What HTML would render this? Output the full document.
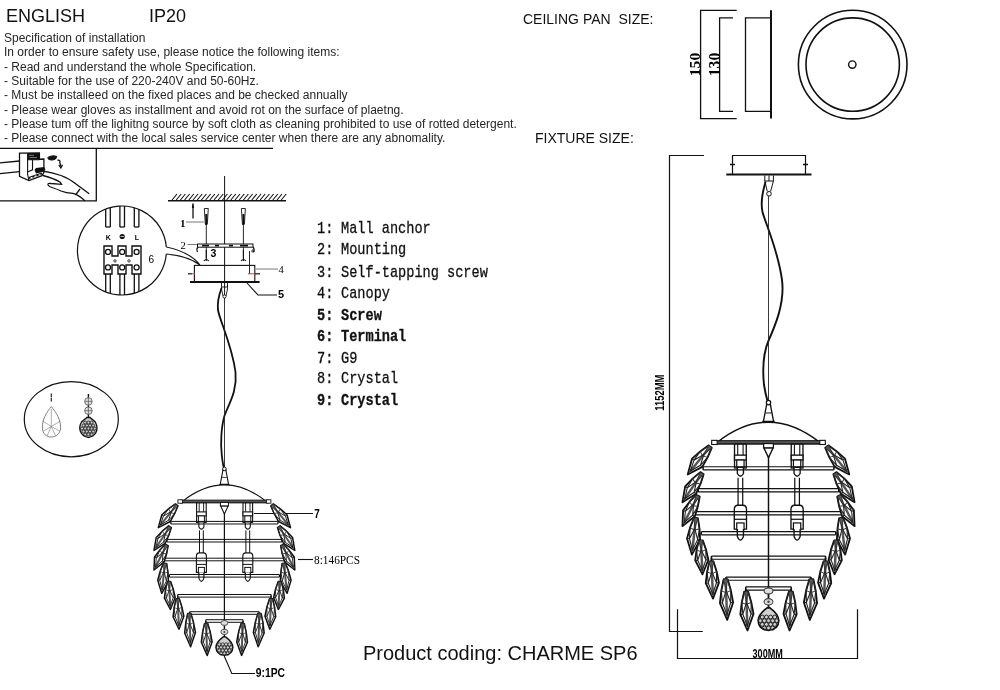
<!DOCTYPE html>
<html><head><meta charset="utf-8">
<style>
html,body{margin:0;padding:0;background:#fff;}
body{width:1000px;height:690px;position:relative;overflow:hidden;font-family:"Liberation Sans",sans-serif;color:#111;}
.t{position:absolute;white-space:pre;line-height:1;will-change:transform;}
.s{font-size:12px;color:#262626;}
.m{font-family:"Liberation Mono",monospace;font-size:13.6px;-webkit-text-stroke:0.25px #111;transform:scaleY(1.17);transform-origin:0 10.42px;}
</style></head><body>
<svg width="1000" height="690" style="position:absolute;left:0;top:0;will-change:transform">
<defs><g id="chand"><path d="M-1.5,-31 L-4,-18 L-4.5,-17 L4.5,-17 L4,-18 L1.5,-31 Z" fill="#fff" stroke="#111" stroke-width="1.1"/>
<circle cx="0" cy="-32.5" r="1.8" fill="#fff" stroke="#111" stroke-width="1"/>
<path d="M-2.5,-24 L2.5,-24" stroke="#111" stroke-width="0.8"/>
<path d="M-42,0 Q0,-33 42,0" fill="#fff" stroke="#111" stroke-width="1.2"/>
<rect x="-44" y="-1.3" width="88" height="2.8" fill="#333" stroke="#111" stroke-width="0.9"/>
<path d="M-44,-0.2 H44" stroke="#999" stroke-width="0.5"/>
<rect x="-46.5" y="-1.6" width="4.5" height="3.4" fill="#fff" stroke="#111" stroke-width="0.9"/>
<rect x="42" y="-1.6" width="4.5" height="3.4" fill="#fff" stroke="#111" stroke-width="0.9"/>
<g transform="translate(-23,0)">
<rect x="-4.8" y="1.5" width="9.6" height="19.5" fill="#fff" stroke="#111" stroke-width="1.1"/>
<path d="M-2.2,1.5 V11 M2.2,1.5 V11" stroke="#111" stroke-width="0.9"/>
<rect x="-4.8" y="10.5" width="9.6" height="4" fill="#fff" stroke="#111" stroke-width="1.1"/>
<rect x="-3" y="14.5" width="6" height="6" fill="#fff" stroke="#111" stroke-width="1"/>
<path d="M-2.5,21 V25.5 Q0,30 2.5,25.5 V21" fill="#fff" stroke="#111" stroke-width="1.1"/>
<path d="M-1.9,29 V51.5 M1.9,29 V51.5" stroke="#111" stroke-width="1"/>
<path d="M-5,71 V55 Q-5,51.5 -2,51.5 H2 Q5,51.5 5,55 V71 Z" fill="#fff" stroke="#111" stroke-width="1.1"/>
<path d="M-5,63 H5" stroke="#111" stroke-width="1"/>
<rect x="-3" y="66" width="6" height="5.5" fill="#fff" stroke="#111" stroke-width="1"/>
<path d="M-2.5,71 V77 Q0,83 2.5,77 V71" fill="#fff" stroke="#111" stroke-width="1.1"/>
</g>
<g transform="translate(23.4,0)">
<rect x="-4.8" y="1.5" width="9.6" height="19.5" fill="#fff" stroke="#111" stroke-width="1.1"/>
<path d="M-2.2,1.5 V11 M2.2,1.5 V11" stroke="#111" stroke-width="0.9"/>
<rect x="-4.8" y="10.5" width="9.6" height="4" fill="#fff" stroke="#111" stroke-width="1.1"/>
<rect x="-3" y="14.5" width="6" height="6" fill="#fff" stroke="#111" stroke-width="1"/>
<path d="M-2.5,21 V25.5 Q0,30 2.5,25.5 V21" fill="#fff" stroke="#111" stroke-width="1.1"/>
<path d="M-1.9,29 V51.5 M1.9,29 V51.5" stroke="#111" stroke-width="1"/>
<path d="M-5,71 V55 Q-5,51.5 -2,51.5 H2 Q5,51.5 5,55 V71 Z" fill="#fff" stroke="#111" stroke-width="1.1"/>
<path d="M-5,63 H5" stroke="#111" stroke-width="1"/>
<rect x="-3" y="66" width="6" height="5.5" fill="#fff" stroke="#111" stroke-width="1"/>
<path d="M-2.5,71 V77 Q0,83 2.5,77 V71" fill="#fff" stroke="#111" stroke-width="1.1"/>
</g>
<path d="M-53.5,20.0 H53.5 M-53.5,22.6 H53.5" stroke="#111" stroke-width="1"/>
<path d="M-53.5,20.0 V22.6 M53.5,20.0 V22.6" stroke="#111" stroke-width="1.2"/>
<path d="M-57.5,38.0 H57.5 M-57.5,40.599999999999994 H57.5" stroke="#111" stroke-width="1"/>
<path d="M-57.5,38.0 V40.599999999999994 M57.5,38.0 V40.599999999999994" stroke="#111" stroke-width="1.2"/>
<path d="M-60.3,56.800000000000004 H60.3 M-60.3,59.4 H60.3" stroke="#111" stroke-width="1"/>
<path d="M-60.3,56.800000000000004 V59.4 M60.3,56.800000000000004 V59.4" stroke="#111" stroke-width="1.2"/>
<path d="M-55,73.10000000000001 H55 M-55,75.7 H55" stroke="#111" stroke-width="1"/>
<path d="M-55,73.10000000000001 V75.7 M55,73.10000000000001 V75.7" stroke="#111" stroke-width="1.2"/>
<path d="M-46.7,93.10000000000001 H46.7 M-46.7,95.7 H46.7" stroke="#111" stroke-width="1"/>
<path d="M-46.7,93.10000000000001 V95.7 M46.7,93.10000000000001 V95.7" stroke="#111" stroke-width="1.2"/>
<path d="M-34.8,110.3 H34.8 M-34.8,112.89999999999999 H34.8" stroke="#111" stroke-width="1"/>
<path d="M-34.8,110.3 V112.89999999999999 M34.8,110.3 V112.89999999999999" stroke="#111" stroke-width="1.2"/>
<path d="M-18.6,118.3 H18.6 M-18.6,120.89999999999999 H18.6" stroke="#111" stroke-width="1"/>
<path d="M-18.6,118.3 V120.89999999999999 M18.6,118.3 V120.89999999999999" stroke="#111" stroke-width="1.2"/>
<path d="M-46.7,94.4 V98.4 M46.7,94.4 V98.4" stroke="#111" stroke-width="1.4"/>
<path d="M-34.8,111.6 V115.6 M34.8,111.6 V115.6" stroke="#111" stroke-width="1.4"/>
<path d="M-18.6,119.6 V123.6 M18.6,119.6 V123.6" stroke="#111" stroke-width="1.4"/>
<path d="M0,2 V118" stroke="#111" stroke-width="1.2"/>
<path d="M-3.8,4.5 L3.8,4.5 L0,12.5 Z" fill="#fff" stroke="#111" stroke-width="1.1"/>
<rect x="-4" y="1" width="8" height="3.5" fill="#fff" stroke="#111" stroke-width="1"/>
<g transform="translate(-47.70,3.50) rotate(38.90)">
<polygon points="-1.6,0 1.6,0 3.89,8.20 5.40,16.99 0,29.30 -5.40,16.99 -3.89,8.20" fill="#fff" stroke="#111" stroke-width="1.5" stroke-linejoin="round"/>
<rect x="-1" y="0" width="2" height="26.95" fill="#555"/>
<path d="M0,8.20 L-3.35,16.99 L0,25.78 L3.35,16.99 Z M-3.89,8.20 L-3.35,16.99 M3.89,8.20 L3.35,16.99 M-1.6,0 L-3.89,8.20 M1.6,0 L3.89,8.20 M-5.40,16.99 L-3.35,16.99 M5.40,16.99 L3.35,16.99" fill="none" stroke="#222" stroke-width="0.9"/>
<path d="M-1.6,0 L0,8.20 L1.6,0 M-3.89,8.20 L0,9.84 L3.89,8.20" fill="none" stroke="#333" stroke-width="0.8"/>
</g>
<g transform="translate(47.70,3.50) rotate(-38.90)">
<polygon points="-1.6,0 1.6,0 3.89,8.20 5.40,16.99 0,29.30 -5.40,16.99 -3.89,8.20" fill="#fff" stroke="#111" stroke-width="1.5" stroke-linejoin="round"/>
<rect x="-1" y="0" width="2" height="26.95" fill="#555"/>
<path d="M0,8.20 L-3.35,16.99 L0,25.78 L3.35,16.99 Z M-3.89,8.20 L-3.35,16.99 M3.89,8.20 L3.35,16.99 M-1.6,0 L-3.89,8.20 M1.6,0 L3.89,8.20 M-5.40,16.99 L-3.35,16.99 M5.40,16.99 L3.35,16.99" fill="none" stroke="#222" stroke-width="0.9"/>
<path d="M-1.6,0 L0,8.20 L1.6,0 M-3.89,8.20 L0,9.84 L3.89,8.20" fill="none" stroke="#333" stroke-width="0.8"/>
</g>
<g transform="translate(-54.40,25.30) rotate(34.02)">
<polygon points="-1.6,0 1.6,0 3.89,8.01 5.40,16.59 0,28.60 -5.40,16.59 -3.89,8.01" fill="#fff" stroke="#111" stroke-width="1.5" stroke-linejoin="round"/>
<rect x="-1" y="0" width="2" height="26.31" fill="#555"/>
<path d="M0,8.01 L-3.35,16.59 L0,25.16 L3.35,16.59 Z M-3.89,8.01 L-3.35,16.59 M3.89,8.01 L3.35,16.59 M-1.6,0 L-3.89,8.01 M1.6,0 L3.89,8.01 M-5.40,16.59 L-3.35,16.59 M5.40,16.59 L3.35,16.59" fill="none" stroke="#222" stroke-width="0.9"/>
<path d="M-1.6,0 L0,8.01 L1.6,0 M-3.89,8.01 L0,9.61 L3.89,8.01" fill="none" stroke="#333" stroke-width="0.8"/>
</g>
<g transform="translate(54.40,25.30) rotate(-34.02)">
<polygon points="-1.6,0 1.6,0 3.89,8.01 5.40,16.59 0,28.60 -5.40,16.59 -3.89,8.01" fill="#fff" stroke="#111" stroke-width="1.5" stroke-linejoin="round"/>
<rect x="-1" y="0" width="2" height="26.31" fill="#555"/>
<path d="M0,8.01 L-3.35,16.59 L0,25.16 L3.35,16.59 Z M-3.89,8.01 L-3.35,16.59 M3.89,8.01 L3.35,16.59 M-1.6,0 L-3.89,8.01 M1.6,0 L3.89,8.01 M-5.40,16.59 L-3.35,16.59 M5.40,16.59 L3.35,16.59" fill="none" stroke="#222" stroke-width="0.9"/>
<path d="M-1.6,0 L0,8.01 L1.6,0 M-3.89,8.01 L0,9.61 L3.89,8.01" fill="none" stroke="#333" stroke-width="0.8"/>
</g>
<g transform="translate(-57.70,43.60) rotate(26.93)">
<polygon points="-1.6,0 1.6,0 3.89,7.85 5.40,16.26 0,28.04 -5.40,16.26 -3.89,7.85" fill="#fff" stroke="#111" stroke-width="1.5" stroke-linejoin="round"/>
<rect x="-1" y="0" width="2" height="25.80" fill="#555"/>
<path d="M0,7.85 L-3.35,16.26 L0,24.68 L3.35,16.26 Z M-3.89,7.85 L-3.35,16.26 M3.89,7.85 L3.35,16.26 M-1.6,0 L-3.89,7.85 M1.6,0 L3.89,7.85 M-5.40,16.26 L-3.35,16.26 M5.40,16.26 L3.35,16.26" fill="none" stroke="#222" stroke-width="0.9"/>
<path d="M-1.6,0 L0,7.85 L1.6,0 M-3.89,7.85 L0,9.42 L3.89,7.85" fill="none" stroke="#333" stroke-width="0.8"/>
</g>
<g transform="translate(57.70,43.60) rotate(-26.93)">
<polygon points="-1.6,0 1.6,0 3.89,7.85 5.40,16.26 0,28.04 -5.40,16.26 -3.89,7.85" fill="#fff" stroke="#111" stroke-width="1.5" stroke-linejoin="round"/>
<rect x="-1" y="0" width="2" height="25.80" fill="#555"/>
<path d="M0,7.85 L-3.35,16.26 L0,24.68 L3.35,16.26 Z M-3.89,7.85 L-3.35,16.26 M3.89,7.85 L3.35,16.26 M-1.6,0 L-3.89,7.85 M1.6,0 L3.89,7.85 M-5.40,16.26 L-3.35,16.26 M5.40,16.26 L3.35,16.26" fill="none" stroke="#222" stroke-width="0.9"/>
<path d="M-1.6,0 L0,7.85 L1.6,0 M-3.89,7.85 L0,9.42 L3.89,7.85" fill="none" stroke="#333" stroke-width="0.8"/>
</g>
<g transform="translate(-59.40,61.90) rotate(6.28)">
<polygon points="-1.6,0 1.6,0 3.89,8.45 5.40,17.50 0,30.18 -5.40,17.50 -3.89,8.45" fill="#fff" stroke="#111" stroke-width="1.5" stroke-linejoin="round"/>
<rect x="-1" y="0" width="2" height="27.77" fill="#555"/>
<path d="M0,8.45 L-3.35,17.50 L0,26.56 L3.35,17.50 Z M-3.89,8.45 L-3.35,17.50 M3.89,8.45 L3.35,17.50 M-1.6,0 L-3.89,8.45 M1.6,0 L3.89,8.45 M-5.40,17.50 L-3.35,17.50 M5.40,17.50 L3.35,17.50" fill="none" stroke="#222" stroke-width="0.9"/>
<path d="M-1.6,0 L0,8.45 L1.6,0 M-3.89,8.45 L0,10.14 L3.89,8.45" fill="none" stroke="#333" stroke-width="0.8"/>
</g>
<g transform="translate(59.40,61.90) rotate(-6.28)">
<polygon points="-1.6,0 1.6,0 3.89,8.45 5.40,17.50 0,30.18 -5.40,17.50 -3.89,8.45" fill="#fff" stroke="#111" stroke-width="1.5" stroke-linejoin="round"/>
<rect x="-1" y="0" width="2" height="27.77" fill="#555"/>
<path d="M0,8.45 L-3.35,17.50 L0,26.56 L3.35,17.50 Z M-3.89,8.45 L-3.35,17.50 M3.89,8.45 L3.35,17.50 M-1.6,0 L-3.89,8.45 M1.6,0 L3.89,8.45 M-5.40,17.50 L-3.35,17.50 M5.40,17.50 L3.35,17.50" fill="none" stroke="#222" stroke-width="0.9"/>
<path d="M-1.6,0 L0,8.45 L1.6,0 M-3.89,8.45 L0,10.14 L3.89,8.45" fill="none" stroke="#333" stroke-width="0.8"/>
</g>
<g transform="translate(-55.40,80.30) rotate(-2.89)">
<polygon points="-1.6,0 1.6,0 3.89,7.77 5.40,16.09 0,27.74 -5.40,16.09 -3.89,7.77" fill="#fff" stroke="#111" stroke-width="1.5" stroke-linejoin="round"/>
<rect x="-1" y="0" width="2" height="25.52" fill="#555"/>
<path d="M0,7.77 L-3.35,16.09 L0,24.41 L3.35,16.09 Z M-3.89,7.77 L-3.35,16.09 M3.89,7.77 L3.35,16.09 M-1.6,0 L-3.89,7.77 M1.6,0 L3.89,7.77 M-5.40,16.09 L-3.35,16.09 M5.40,16.09 L3.35,16.09" fill="none" stroke="#222" stroke-width="0.9"/>
<path d="M-1.6,0 L0,7.77 L1.6,0 M-3.89,7.77 L0,9.32 L3.89,7.77" fill="none" stroke="#333" stroke-width="0.8"/>
</g>
<g transform="translate(55.40,80.30) rotate(2.89)">
<polygon points="-1.6,0 1.6,0 3.89,7.77 5.40,16.09 0,27.74 -5.40,16.09 -3.89,7.77" fill="#fff" stroke="#111" stroke-width="1.5" stroke-linejoin="round"/>
<rect x="-1" y="0" width="2" height="25.52" fill="#555"/>
<path d="M0,7.77 L-3.35,16.09 L0,24.41 L3.35,16.09 Z M-3.89,7.77 L-3.35,16.09 M3.89,7.77 L3.35,16.09 M-1.6,0 L-3.89,7.77 M1.6,0 L3.89,7.77 M-5.40,16.09 L-3.35,16.09 M5.40,16.09 L3.35,16.09" fill="none" stroke="#222" stroke-width="0.9"/>
<path d="M-1.6,0 L0,7.77 L1.6,0 M-3.89,7.77 L0,9.32 L3.89,7.77" fill="none" stroke="#333" stroke-width="0.8"/>
</g>
<g transform="translate(-46.70,97.40) rotate(-2.44)">
<polygon points="-1.6,0 1.6,0 3.89,8.55 5.40,17.71 0,30.53 -5.40,17.71 -3.89,8.55" fill="#fff" stroke="#111" stroke-width="1.5" stroke-linejoin="round"/>
<rect x="-1" y="0" width="2" height="28.09" fill="#555"/>
<path d="M0,8.55 L-3.35,17.71 L0,26.86 L3.35,17.71 Z M-3.89,8.55 L-3.35,17.71 M3.89,8.55 L3.35,17.71 M-1.6,0 L-3.89,8.55 M1.6,0 L3.89,8.55 M-5.40,17.71 L-3.35,17.71 M5.40,17.71 L3.35,17.71" fill="none" stroke="#222" stroke-width="0.9"/>
<path d="M-1.6,0 L0,8.55 L1.6,0 M-3.89,8.55 L0,10.26 L3.89,8.55" fill="none" stroke="#333" stroke-width="0.8"/>
</g>
<g transform="translate(46.70,97.40) rotate(2.44)">
<polygon points="-1.6,0 1.6,0 3.89,8.55 5.40,17.71 0,30.53 -5.40,17.71 -3.89,8.55" fill="#fff" stroke="#111" stroke-width="1.5" stroke-linejoin="round"/>
<rect x="-1" y="0" width="2" height="28.09" fill="#555"/>
<path d="M0,8.55 L-3.35,17.71 L0,26.86 L3.35,17.71 Z M-3.89,8.55 L-3.35,17.71 M3.89,8.55 L3.35,17.71 M-1.6,0 L-3.89,8.55 M1.6,0 L3.89,8.55 M-5.40,17.71 L-3.35,17.71 M5.40,17.71 L3.35,17.71" fill="none" stroke="#222" stroke-width="0.9"/>
<path d="M-1.6,0 L0,8.55 L1.6,0 M-3.89,8.55 L0,10.26 L3.89,8.55" fill="none" stroke="#333" stroke-width="0.8"/>
</g>
<g transform="translate(-35.10,112.00) rotate(-2.24)">
<polygon points="-1.6,0 1.6,0 3.89,9.33 5.40,19.33 0,33.33 -5.40,19.33 -3.89,9.33" fill="#fff" stroke="#111" stroke-width="1.5" stroke-linejoin="round"/>
<rect x="-1" y="0" width="2" height="30.66" fill="#555"/>
<path d="M0,9.33 L-3.35,19.33 L0,29.33 L3.35,19.33 Z M-3.89,9.33 L-3.35,19.33 M3.89,9.33 L3.35,19.33 M-1.6,0 L-3.89,9.33 M1.6,0 L3.89,9.33 M-5.40,19.33 L-3.35,19.33 M5.40,19.33 L3.35,19.33" fill="none" stroke="#222" stroke-width="0.9"/>
<path d="M-1.6,0 L0,9.33 L1.6,0 M-3.89,9.33 L0,11.20 L3.89,9.33" fill="none" stroke="#333" stroke-width="0.8"/>
</g>
<g transform="translate(35.10,112.00) rotate(2.24)">
<polygon points="-1.6,0 1.6,0 3.89,9.33 5.40,19.33 0,33.33 -5.40,19.33 -3.89,9.33" fill="#fff" stroke="#111" stroke-width="1.5" stroke-linejoin="round"/>
<rect x="-1" y="0" width="2" height="30.66" fill="#555"/>
<path d="M0,9.33 L-3.35,19.33 L0,29.33 L3.35,19.33 Z M-3.89,9.33 L-3.35,19.33 M3.89,9.33 L3.35,19.33 M-1.6,0 L-3.89,9.33 M1.6,0 L3.89,9.33 M-5.40,19.33 L-3.35,19.33 M5.40,19.33 L3.35,19.33" fill="none" stroke="#222" stroke-width="0.9"/>
<path d="M-1.6,0 L0,9.33 L1.6,0 M-3.89,9.33 L0,11.20 L3.89,9.33" fill="none" stroke="#333" stroke-width="0.8"/>
</g>
<g transform="translate(-18.30,122.10) rotate(-1.97)">
<polygon points="-1.6,0 1.6,0 3.89,8.94 5.40,18.51 0,31.92 -5.40,18.51 -3.89,8.94" fill="#fff" stroke="#111" stroke-width="1.5" stroke-linejoin="round"/>
<rect x="-1" y="0" width="2" height="29.37" fill="#555"/>
<path d="M0,8.94 L-3.35,18.51 L0,28.09 L3.35,18.51 Z M-3.89,8.94 L-3.35,18.51 M3.89,8.94 L3.35,18.51 M-1.6,0 L-3.89,8.94 M1.6,0 L3.89,8.94 M-5.40,18.51 L-3.35,18.51 M5.40,18.51 L3.35,18.51" fill="none" stroke="#222" stroke-width="0.9"/>
<path d="M-1.6,0 L0,8.94 L1.6,0 M-3.89,8.94 L0,10.72 L3.89,8.94" fill="none" stroke="#333" stroke-width="0.8"/>
</g>
<g transform="translate(18.30,122.10) rotate(1.97)">
<polygon points="-1.6,0 1.6,0 3.89,8.94 5.40,18.51 0,31.92 -5.40,18.51 -3.89,8.94" fill="#fff" stroke="#111" stroke-width="1.5" stroke-linejoin="round"/>
<rect x="-1" y="0" width="2" height="29.37" fill="#555"/>
<path d="M0,8.94 L-3.35,18.51 L0,28.09 L3.35,18.51 Z M-3.89,8.94 L-3.35,18.51 M3.89,8.94 L3.35,18.51 M-1.6,0 L-3.89,8.94 M1.6,0 L3.89,8.94 M-5.40,18.51 L-3.35,18.51 M5.40,18.51 L3.35,18.51" fill="none" stroke="#222" stroke-width="0.9"/>
<path d="M-1.6,0 L0,8.94 L1.6,0 M-3.89,8.94 L0,10.72 L3.89,8.94" fill="none" stroke="#333" stroke-width="0.8"/>
</g>
<path d="M0,118 V136" stroke="#111" stroke-width="1.5"/>
<ellipse cx="0" cy="121.6" rx="3.6" ry="2.4" fill="#ddd" stroke="#444" stroke-width="0.9"/>
<ellipse cx="0" cy="130.5" rx="3.6" ry="2.6" fill="#ddd" stroke="#444" stroke-width="0.9"/><circle cx="0" cy="130.5" r="1" fill="#444"/>
<path d="M-1.2,135.5 Q-8.5,141 -8.4,146 Q-8.2,153 0,154 Q8.2,153 8.4,146 Q8.5,141 1.2,135.5 Z" fill="#d0d0d0" stroke="#111" stroke-width="1.4"/>
<g fill="none" stroke="#222" stroke-width="0.8"><circle cx="-5.1" cy="143" r="1.6"/><circle cx="-1.7" cy="143" r="1.6"/><circle cx="1.7" cy="143" r="1.6"/><circle cx="5.1" cy="143" r="1.6"/><circle cx="-6.8" cy="146" r="1.6"/><circle cx="-3.4" cy="146" r="1.6"/><circle cx="0.0" cy="146" r="1.6"/><circle cx="3.4" cy="146" r="1.6"/><circle cx="6.8" cy="146" r="1.6"/><circle cx="-5.1" cy="149" r="1.6"/><circle cx="-1.7" cy="149" r="1.6"/><circle cx="1.7" cy="149" r="1.6"/><circle cx="5.1" cy="149" r="1.6"/><circle cx="-3.4" cy="152" r="1.6"/><circle cx="0.0" cy="152" r="1.6"/><circle cx="3.4" cy="152" r="1.6"/></g></g></defs>
<path d="M0,148.3 H273" stroke="#111" stroke-width="1.2"/>
<path d="M0,200.8 H96.3 V148.3" fill="none" stroke="#111" stroke-width="1.3"/>
<path d="M0,162.9 L19.5,161 M0,173.7 L19.5,171.7" stroke="#111" stroke-width="1.3" fill="none"/>
<path d="M19.5,153.2 L39.4,152.8 L39.4,159.2 L43.9,159 L43.9,172.5 L42,175.7 L28.9,180.5 L19.5,176.3 Z" fill="#fff" stroke="#111" stroke-width="1.3"/>
<path d="M27.6,153 V174.4 L28.9,180.5 M27.6,159.7 H39.4 M32.5,159.7 V169.8 L27.6,172" fill="none" stroke="#111" stroke-width="1.1"/>
<rect x="27.6" y="153" width="11.8" height="6.7" fill="#111"/>
<path d="M29,155.3 H34 M29.5,157.5 H37" stroke="#bbb" stroke-width="0.6"/>
<path d="M34.5,170 L36,168 L44,167 L45.5,169.5 L42.5,172 L36,173.5 Z" fill="#111"/>
<path d="M28.9,178 L42,173.5" stroke="#111" stroke-width="2.2"/>
<path d="M30.5,178 L32.5,177.3 M34.5,176.6 L36.5,175.9 M38.5,175.2 L40.5,174.5" stroke="#fff" stroke-width="1.2"/>
<path d="M48,157.5 Q52,155 56.5,156.5 Q56,160 52,159.8 Q48,160 48,157.5 Z" fill="#111" stroke="#111" stroke-width="1.2"/>
<path d="M57.5,160 Q61,160.5 59.8,162.5 L60.9,166.5" fill="none" stroke="#111" stroke-width="1.3"/>
<path d="M58.8,165 L60.9,168 L62.5,164.8" fill="none" stroke="#111" stroke-width="1.3"/>
<path d="M42.6,171 Q52,172.5 61,175.5 Q70,179 76,184 L89.2,193.8" fill="none" stroke="#111" stroke-width="1.3"/>
<path d="M43,175.5 Q54,178.5 60,182 L61.5,184.3 L51,183.5 Q47.5,183 48,185 Q48.8,186.5 52,187.5 Q57,189 61,191 Q66,193 73,193.4 Q79,195 85,201" fill="none" stroke="#111" stroke-width="1.3"/>
<path d="M80,189 L75.5,195" stroke="#111" stroke-width="1.3"/>
<path d="M166.3,247 A44.5,44.5 0 1 0 166.3,254" fill="none" stroke="#111" stroke-width="1.2"/>
<path d="M166.3,247 Q190,252 200,265 M166.3,254 Q188,256 200,265" fill="none" stroke="#111" stroke-width="1.1"/>
<path d="M105.70,209.33 V227 M105.70,274 V291.67" fill="none" stroke="#111" stroke-width="1.3"/>
<path d="M110.30,207.73 V227 M110.30,274 V293.27" fill="none" stroke="#111" stroke-width="1.3"/>
<path d="M105.7,227 H110.3" stroke="#111" stroke-width="1.3"/>
<path d="M119.90,206.08 V227 M119.90,274 V294.92" fill="none" stroke="#111" stroke-width="1.3"/>
<path d="M124.50,206.04 V227 M124.50,274 V294.96" fill="none" stroke="#111" stroke-width="1.3"/>
<path d="M119.9,227 H124.5" stroke="#111" stroke-width="1.3"/>
<path d="M134.30,207.57 V227 M134.30,274 V293.43" fill="none" stroke="#111" stroke-width="1.3"/>
<path d="M138.90,209.09 V227 M138.90,274 V291.91" fill="none" stroke="#111" stroke-width="1.3"/>
<path d="M134.29999999999998,227 H138.9" stroke="#111" stroke-width="1.3"/>
<path d="M104,246 H112 V256 H118 V246 H126 V256 H132 V246 H141 V274 H132 V265 H126 V274 H118 V265 H112 V274 H104 Z" fill="#fff" stroke="#111" stroke-width="1.4"/>
<circle cx="108" cy="251.9" r="2.5" fill="#fff" stroke="#111" stroke-width="1.3"/>
<circle cx="108" cy="267.4" r="2.5" fill="#fff" stroke="#111" stroke-width="1.3"/>
<circle cx="122.2" cy="251.9" r="2.5" fill="#fff" stroke="#111" stroke-width="1.3"/>
<circle cx="122.2" cy="267.4" r="2.5" fill="#fff" stroke="#111" stroke-width="1.3"/>
<circle cx="136.6" cy="251.9" r="2.5" fill="#fff" stroke="#111" stroke-width="1.3"/>
<circle cx="136.6" cy="267.4" r="2.5" fill="#fff" stroke="#111" stroke-width="1.3"/>
<circle cx="115" cy="260.9" r="1.2" fill="#fff" stroke="#111" stroke-width="0.8"/>
<circle cx="129" cy="260.9" r="1.2" fill="#fff" stroke="#111" stroke-width="0.8"/>
<text x="108.3" y="240" font-family="Liberation Sans" font-weight="bold" font-size="7" text-anchor="middle">K</text>
<circle cx="122.2" cy="236.5" r="2.6" fill="#111"/><path d="M120.5,236.5 H124" stroke="#fff" stroke-width="0.7"/>
<text x="136.8" y="240" font-family="Liberation Sans" font-weight="bold" font-size="7" text-anchor="middle">L</text>
<text x="148.6" y="262.5" font-family="Liberation Sans" font-size="10">6</text>
<path d="M224.6,176 V300" stroke="#111" stroke-width="1"/>
<path d="M168,200.8 H286" stroke="#111" stroke-width="1.6"/>
<path d="M172.0,200 L177.0,194 M176.2,200 L181.2,194 M180.4,200 L185.4,194 M184.6,200 L189.6,194 M188.8,200 L193.8,194 M193.0,200 L198.0,194 M197.2,200 L202.2,194 M201.4,200 L206.4,194 M205.6,200 L210.6,194 M209.8,200 L214.8,194 M214.0,200 L219.0,194 M218.2,200 L223.2,194 M222.4,200 L227.4,194 M226.6,200 L231.6,194 M230.8,200 L235.8,194 M235.0,200 L240.0,194 M239.2,200 L244.2,194 M243.4,200 L248.4,194 M247.6,200 L252.6,194 M251.8,200 L256.8,194 M256.0,200 L261.0,194 M260.2,200 L265.2,194 M264.4,200 L269.4,194 M268.6,200 L273.6,194 M272.8,200 L277.8,194 M277.0,200 L282.0,194 M281.2,200 L286.2,194 " stroke="#111" stroke-width="1.1"/>
<path d="M193,203.5 V218.5" stroke="#111" stroke-width="1.3"/><path d="M191.8,208 L193,203 L194.2,208 Z" fill="#111"/>
<text x="180" y="226.5" font-family="Liberation Serif" font-weight="bold" font-size="11">1</text>
<path d="M186,222 H204" stroke="#555" stroke-width="0.8"/>
<path d="M204.3,208.5 H208.3 L207.3,224 H205.3 Z" fill="#fff" stroke="#111" stroke-width="0.9"/>
<rect x="205.3" y="214" width="2" height="11" fill="#111"/>
<path d="M206.3,224 V258" stroke="#111" stroke-width="0.9"/>
<path d="M203.8,261 Q206.3,258 208.8,261 M206.3,250 V261" fill="none" stroke="#111" stroke-width="1.1"/>
<path d="M241.4,208.5 H245.4 L244.4,224 H242.4 Z" fill="#fff" stroke="#111" stroke-width="0.9"/>
<rect x="242.4" y="214" width="2" height="11" fill="#111"/>
<path d="M243.4,224 V258" stroke="#111" stroke-width="0.9"/>
<path d="M240.9,261 Q243.4,258 245.9,261 M243.4,250 V261" fill="none" stroke="#111" stroke-width="1.1"/>
<rect x="197.5" y="244" width="55.5" height="3.2" fill="#fff" stroke="#111" stroke-width="1"/>
<path d="M202,245.6 H209 M215,245.6 H219 M229,245.6 H233 M240,245.6 H248" stroke="#111" stroke-width="1.8"/>
<path d="M198,247 Q196,249 197.5,252 M253,247 Q255,249 253.5,252" fill="none" stroke="#111" stroke-width="1.1"/>
<circle cx="253" cy="251" r="1.2" fill="none" stroke="#111" stroke-width="0.9"/>
<text x="180.5" y="248.5" font-family="Liberation Serif" font-size="10.5">2</text>
<path d="M187.5,244.5 H197" stroke="#555" stroke-width="0.8"/>
<text x="210.5" y="257" font-family="Liberation Sans" font-weight="bold" font-size="10.5">3</text>
<path d="M249.5,251 V274" stroke="#111" stroke-width="0.9"/>
<rect x="194.4" y="265.4" width="60.4" height="16.5" fill="none" stroke="#111" stroke-width="1.1"/>
<path d="M190,282 H259.6" stroke="#111" stroke-width="1.8"/>
<path d="M188,273.8 H192" stroke="#111" stroke-width="1.2"/><path d="M192,273.8 H195" stroke="#e33" stroke-width="1"/>
<path d="M248,273.8 H255" stroke="#e33" stroke-width="1"/><path d="M255,273.8 H260" stroke="#111" stroke-width="1.2"/>
<text x="278.5" y="273" font-family="Liberation Serif" font-size="10.5">4</text>
<path d="M256,269 H278" stroke="#555" stroke-width="0.8"/>
<path d="M247,283 L258,295 H277" fill="none" stroke="#111" stroke-width="1.1"/>
<text x="278" y="297.5" font-family="Liberation Sans" font-weight="bold" font-size="11">5</text>
<path d="M221.5,283 V289 L223,296 M227.5,283 V289 L226,296 M221.5,287 H227.5" fill="none" stroke="#111" stroke-width="0.9"/>
<circle cx="224.5" cy="296.5" r="1.6" fill="#fff" stroke="#111" stroke-width="0.9"/>
<path d="M221.5,288 C219,295 217,302 218,310 C219.5,320 232,345 235.5,372 C237.5,392 228,405 224.4,416 C221,428 220.5,445 221.8,455 C222.5,462 223.5,467 224.4,470" fill="none" stroke="#111" stroke-width="1.8"/>
<path d="M224.5,298 V468" stroke="#222" stroke-width="0.9"/>
<circle cx="224.4" cy="470" r="1.6" fill="#fff" stroke="#111" stroke-width="0.9"/>
<path d="M254,513.5 H313" stroke="#111" stroke-width="1.1"/>
<text x="314.3" y="517.8" font-family="Liberation Sans" font-weight="bold" font-size="12" textLength="5.5" lengthAdjust="spacingAndGlyphs">7</text>
<path d="M298,559.5 H313" stroke="#111" stroke-width="1.1"/>
<text x="314" y="564" font-family="Liberation Serif" font-size="11.8" textLength="46" lengthAdjust="spacingAndGlyphs">8:146PCS</text>
<path d="M224.2,656 L231.8,673.5 H255" fill="none" stroke="#111" stroke-width="1.1"/>
<text x="255.7" y="676.8" font-family="Liberation Sans" font-weight="bold" font-size="12.2" textLength="29.3" lengthAdjust="spacingAndGlyphs">9:1PC</text>
<ellipse cx="71.3" cy="419.2" rx="47" ry="37.6" fill="none" stroke="#111" stroke-width="1.2"/>
<path d="M51.3,393.5 V401.5" stroke="#333" stroke-width="1.3"/><path d="M50.2,397.5 H52.4" stroke="#fff" stroke-width="0.6"/>
<path d="M51.3,406.6 C56,412 61,420 60.6,428 C60,434 56,437 51.3,437 C46.6,437 42.6,434 42.4,428 C42,420 46.6,412 51.3,406.6 Z" fill="none" stroke="#666" stroke-width="0.8"/>
<path d="M51.3,409 V426.5 M42.6,421 L51.3,426.5 L60.4,421 M43.5,431 L51.3,426.5 L59.5,431 M47,436 L51.3,426.5 L55.6,436" fill="none" stroke="#777" stroke-width="0.6"/>
<path d="M88.4,394 V417" stroke="#111" stroke-width="1.4"/>
<circle cx="88.4" cy="401.4" r="3.8" fill="#ddd" stroke="#555" stroke-width="0.8"/><path d="M84.8,401.4 H92 M88.4,397.8 V405" stroke="#555" stroke-width="0.7"/>
<circle cx="88.4" cy="410.7" r="3.8" fill="#ddd" stroke="#555" stroke-width="0.8"/><path d="M84.8,410.7 H92 M88.4,407 V414.4" stroke="#555" stroke-width="0.7"/>
<path d="M86.8,417.5 L81.5,422 Q79.7,425 79.7,428 Q80,433 84,436 L88.4,437.5 L92.8,436 Q97,433 97,428 Q97,425 95.3,422 L90,417.5 Z" fill="#c8c8c8" stroke="#111" stroke-width="1.3"/>
<g fill="none" stroke="#222" stroke-width="0.8"><circle cx="85.2" cy="422.5" r="1.5"/><circle cx="88.4" cy="422.5" r="1.5"/><circle cx="91.6" cy="422.5" r="1.5"/><circle cx="83.6" cy="425.5" r="1.5"/><circle cx="86.8" cy="425.5" r="1.5"/><circle cx="90.0" cy="425.5" r="1.5"/><circle cx="93.2" cy="425.5" r="1.5"/><circle cx="82.0" cy="428.5" r="1.5"/><circle cx="85.2" cy="428.5" r="1.5"/><circle cx="88.4" cy="428.5" r="1.5"/><circle cx="91.6" cy="428.5" r="1.5"/><circle cx="94.8" cy="428.5" r="1.5"/><circle cx="83.6" cy="431.5" r="1.5"/><circle cx="86.8" cy="431.5" r="1.5"/><circle cx="90.0" cy="431.5" r="1.5"/><circle cx="93.2" cy="431.5" r="1.5"/><circle cx="85.2" cy="434.5" r="1.5"/><circle cx="88.4" cy="434.5" r="1.5"/><circle cx="91.6" cy="434.5" r="1.5"/></g>
<path d="M736.7,10.3 H700.6 V118.6 H736.7" fill="none" stroke="#111" stroke-width="1.3"/>
<path d="M733,17.9 H719.6 V111.4 H733" fill="none" stroke="#111" stroke-width="1.3"/>
<path d="M771,17.9 H745.5 V111.4 H771" fill="none" stroke="#111" stroke-width="1.3"/>
<path d="M771,10.3 V118.6" stroke="#111" stroke-width="2"/>
<text transform="translate(700.2,64.5) rotate(-90)" font-family="Liberation Serif" font-weight="bold" font-size="15" text-anchor="middle" textLength="23.6" lengthAdjust="spacingAndGlyphs">150</text>
<text transform="translate(719.8,64.5) rotate(-90)" font-family="Liberation Serif" font-weight="bold" font-size="16" text-anchor="middle" textLength="23.6" lengthAdjust="spacingAndGlyphs">130</text>
<circle cx="852.7" cy="64.6" r="54.3" fill="none" stroke="#111" stroke-width="1.6"/>
<circle cx="852.7" cy="64.6" r="46.7" fill="none" stroke="#111" stroke-width="1.6"/>
<circle cx="852.3" cy="64.6" r="3.7" fill="none" stroke="#111" stroke-width="1.4"/>
<path d="M704,155.5 H669.5 V631.5 H702.8" fill="none" stroke="#111" stroke-width="1.2"/>
<text transform="translate(663.5,392.7) rotate(-90)" font-family="Liberation Sans" font-weight="bold" font-size="12.5" text-anchor="middle" textLength="36" lengthAdjust="spacingAndGlyphs">1152MM</text>
<path d="M677.5,609.3 V658.5 H857.5 V609.3" fill="none" stroke="#111" stroke-width="1.2"/>
<text x="767.7" y="657.6" font-family="Liberation Sans" font-weight="bold" font-size="12.5" text-anchor="middle" textLength="30.3" lengthAdjust="spacingAndGlyphs">300MM</text>
<path d="M732.5,174.5 V155.5 H805.5 V174.5" fill="none" stroke="#111" stroke-width="1.2"/>
<path d="M726.3,174.5 H811.5" stroke="#111" stroke-width="2"/>
<path d="M730,164.5 H735 M803,164.5 H808" stroke="#111" stroke-width="1.6"/>
<path d="M764.8,175.5 V181 L767.3,191.5 M773.4,175.5 V181 L770.6,191.5 M764.8,181 H773.4 M769,175.5 V181" fill="none" stroke="#111" stroke-width="1"/>
<circle cx="769" cy="193.8" r="2.3" fill="#fff" stroke="#111" stroke-width="1"/>
<path d="M765.5,182 C762.5,192 760.5,203 762.5,212 C765,222 778,250 782,280 C785,303 775,326 768.8,340 C763.5,352 762.5,370 764,385 C765.5,395 767.5,401 768.8,405.7" fill="none" stroke="#111" stroke-width="1.9"/>
<path d="M768.5,196 V404" stroke="#222" stroke-width="0.9"/>
<circle cx="768.8" cy="405.7" r="2" fill="#fff" stroke="#111" stroke-width="1"/>
<use href="#chand" transform="translate(224.4,501.4)"/>
<use href="#chand" transform="translate(768.5,442.3) scale(1.222)"/>
</svg>
<div class="t" style="left:6px;top:6.6px;font-size:18px">ENGLISH</div>
<div class="t" style="left:149px;top:6.6px;font-size:18px">IP20</div>
<div class="t s" style="left:4px;top:31.6px">Specification of installation</div>
<div class="t s" style="left:4px;top:45.8px">In order to ensure safety use, please notice the following items:</div>
<div class="t s" style="left:4px;top:60.6px">- Read and understand the whole Specification.</div>
<div class="t s" style="left:4px;top:75.1px">- Suitable for the use of 220-240V and 50-60Hz.</div>
<div class="t s" style="left:4px;top:89.3px">- Must be installeed on the fixed places and be checked annually</div>
<div class="t s" style="left:4px;top:103.8px">- Please wear gloves as installment and avoid rot on the surface of plaetng.</div>
<div class="t s" style="left:4px;top:118px">- Please tum off the lighitng source by soft cloth as cleaning prohibited to use of rotted detergent.</div>
<div class="t s" style="left:4px;top:132.4px">- Please connect with the local sales service center when there are any abnomality.</div>
<div class="t" style="left:523px;top:12.2px;font-size:14px">CEILING PAN  SIZE:</div>
<div class="t" style="left:534.5px;top:131px;font-size:14px">FIXTURE SIZE:</div>
<div class="t m" style="left:316.5px;top:222.7px">1:</div><div class="t m" style="left:341px;top:222.7px">Mall anchor</div>
<div class="t m" style="left:316.5px;top:244.1px">2:</div><div class="t m" style="left:341px;top:244.1px">Mounting</div>
<div class="t m" style="left:316.5px;top:266.7px">3:</div><div class="t m" style="left:341px;top:266.7px">Self-tapping screw</div>
<div class="t m" style="left:316.5px;top:288.0px">4:</div><div class="t m" style="left:341px;top:288.0px">Canopy</div>
<div class="t m" style="left:316.5px;top:310.0px;font-weight:bold">5:</div><div class="t m" style="left:341px;top:310.0px;font-weight:bold">Screw</div>
<div class="t m" style="left:316.5px;top:331.3px;font-weight:bold">6:</div><div class="t m" style="left:341px;top:331.3px;font-weight:bold">Terminal</div>
<div class="t m" style="left:316.5px;top:352.7px">7:</div><div class="t m" style="left:341px;top:352.7px">G9</div>
<div class="t m" style="left:316.5px;top:373.0px">8:</div><div class="t m" style="left:341px;top:373.0px">Crystal</div>
<div class="t m" style="left:316.5px;top:394.6px;font-weight:bold">9:</div><div class="t m" style="left:341px;top:394.6px;font-weight:bold">Crystal</div>
<div class="t" style="left:363px;top:643px;font-size:20px">Product coding: CHARME SP6</div>
</body></html>
